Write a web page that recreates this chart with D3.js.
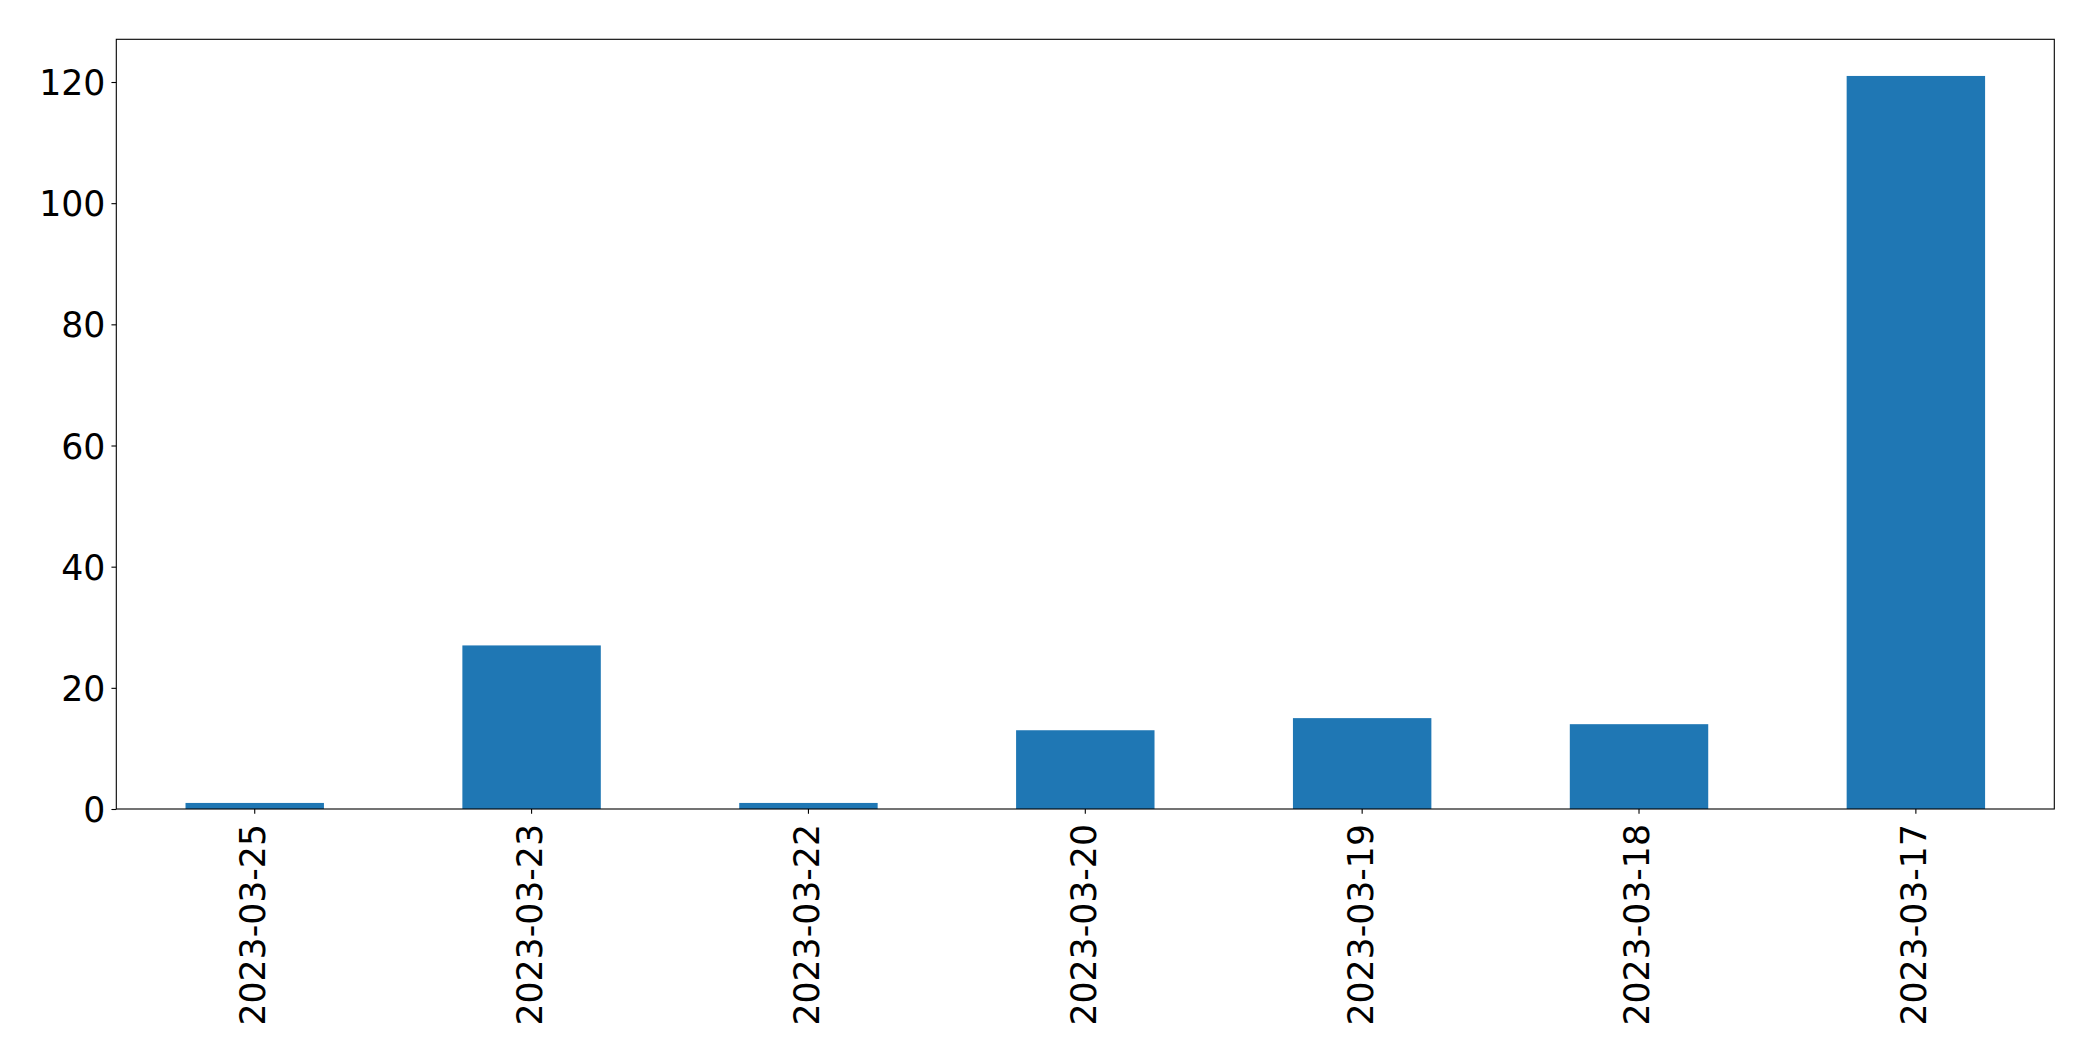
<!DOCTYPE html>
<html>
<head>
<meta charset="utf-8">
<script src="https://cdn.jsdelivr.net/npm/d3@7"></script>
<style>
  html, body { margin: 0; padding: 0; background: #fff; }
  svg { display: block; }
  text { font-family: "DejaVu Sans", sans-serif; fill: #000; }
</style>
</head>
<body>
<svg id="chart" width="2093" height="1061"></svg>
<script>
const categories = ["2023-03-25", "2023-03-23", "2023-03-22", "2023-03-20", "2023-03-19", "2023-03-18", "2023-03-17"];
const values = [1, 27, 1, 13, 15, 14, 121];
const yTicks = [0, 20, 40, 60, 80, 100, 120];

const W = 2093, H = 1061;
const m = { left: 116.3, right: W - 2054.3, top: 39.3, bottom: H - 809 };
const svg = d3.select("#chart");
const g = svg.append("g");

const x = d3.scaleBand().domain(categories)
  .range([m.left, W - m.right]).paddingInner(0.5).paddingOuter(0.25);
const y = d3.scaleLinear().domain([0, d3.max(values) * 1.05])
  .range([H - m.bottom, m.top]);

g.selectAll("rect.bar").data(values).enter().append("rect")
  .attr("class", "bar")
  .attr("x", (d, i) => x(categories[i]))
  .attr("width", x.bandwidth())
  .attr("y", d => y(d))
  .attr("height", d => y(0) - y(d))
  .attr("fill", "#1f77b4");

const fs = 34.7;
const tickLen = 4.86;

// Y axis
const yAxis = g.append("g").attr("transform", `translate(${m.left},0)`)
  .call(d3.axisLeft(y).tickValues(yTicks).tickSize(tickLen).tickPadding(6).tickFormat(d3.format("d")));
yAxis.select(".domain").remove();
yAxis.selectAll("line").attr("stroke", "#000").attr("stroke-width", 1.1);
yAxis.selectAll("text").style("font-size", fs + "px").attr("font-family", "DejaVu Sans").attr("dy", "0.36em");

// X axis
const xAxis = g.append("g").attr("transform", `translate(0,${H - m.bottom})`)
  .call(d3.axisBottom(x).tickSize(tickLen).tickPadding(0));
xAxis.select(".domain").remove();
xAxis.selectAll("line").attr("stroke", "#000").attr("stroke-width", 1.1);
xAxis.selectAll("text")
  .style("font-size", fs + "px")
  .attr("font-family", "DejaVu Sans")
  .attr("text-anchor", "end")
  .attr("transform", "translate(0,15) rotate(-90)")
  .attr("x", 0).attr("y", 0)
  .attr("dy", "0.30em");

// Frame
g.append("rect")
  .attr("x", m.left).attr("y", m.top)
  .attr("width", W - m.right - m.left)
  .attr("height", H - m.bottom - m.top)
  .attr("fill", "none").attr("stroke", "#000").attr("stroke-width", 1.1);
</script>
</body>
</html>
